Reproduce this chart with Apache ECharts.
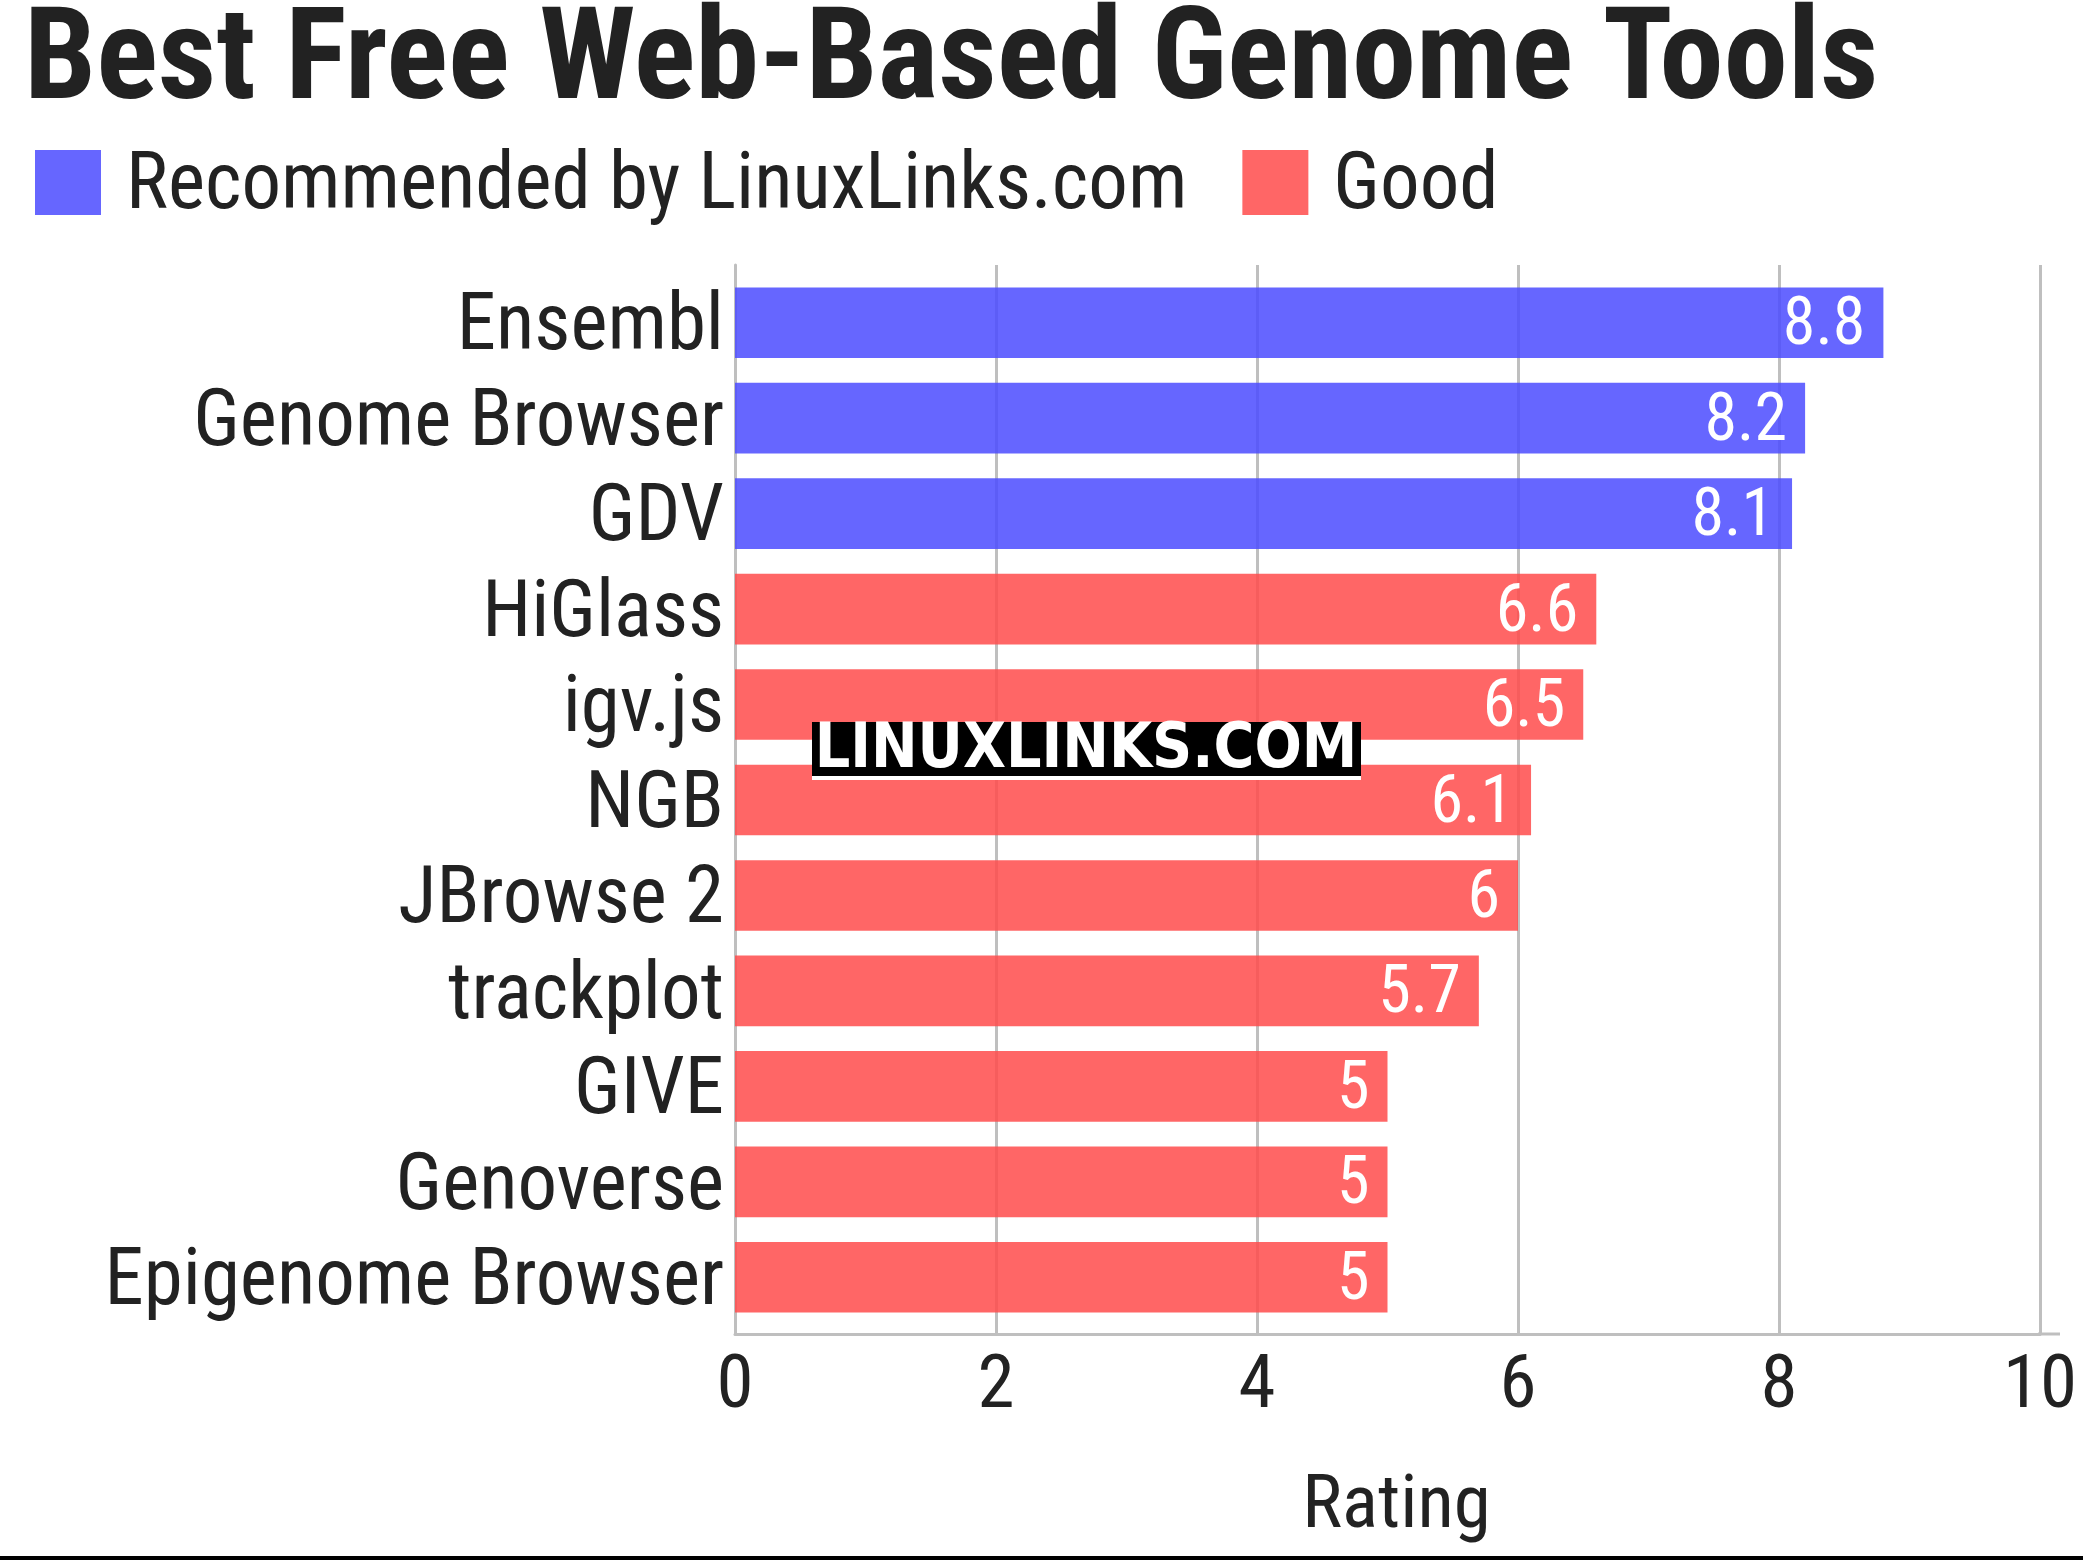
<!DOCTYPE html>
<html><head><meta charset="utf-8">
<script src="https://cdn.jsdelivr.net/npm/echarts@6/dist/echarts.min.js"></script>
<style>html,body{margin:0;padding:0;background:#fff}#c{width:2083px;height:1562px}</style>
</head><body><div id="c"></div>
<script>
const categories = ["Ensembl","Genome Browser","GDV","HiGlass","igv.js","NGB","JBrowse 2","trackplot","GIVE","Genoverse","Epigenome Browser"];
const recommended = [8.8, 8.2, 8.1, null, null, null, null, null, null, null, null];
const good = [null, null, null, 6.6, 6.5, 6.1, 6.0, 5.7, 5.0, 5.0, 5.0];
const xTicks = [0, 2, 4, 6, 8, 10];
const titleText = "Best Free Web-Based Genome Tools";
const seriesNames = ["Recommended by LinuxLinks.com", "Good"];

const FONT = '"Roboto Condensed","Liberation Sans Narrow","DejaVu Sans Condensed",Roboto,sans-serif';
const chart = echarts.init(document.getElementById('c'), null, {renderer:'canvas'});
const lbl = {show:true, position:'insideRight', distance:18, offset:[0,5], color:'#fff', fontSize:66, fontFamily:FONT,
  formatter: p => p.value == null ? '' : String(p.value)};
chart.setOption({
  backgroundColor:'#fff',
  animation:false,
  title:{text:titleText, left:19, top:-4, textStyle:{fontSize:128.7, fontWeight:'bold', color:'#222', fontFamily:FONT}},
  legend:{left:30, top:144, itemWidth:66, itemHeight:65, itemGap:55, icon:'rect',
    formatter: name => '{t|' + name + '}',
    textStyle:{fontSize:79, color:'#222', fontFamily:FONT, padding:[0,0,0,20],
      rich:{t:{fontSize:79, color:'#222', fontFamily:FONT, padding:[12,0,0,0]}}},
    data:seriesNames},
  grid:[
    {left:735, right:43, top:265, bottom:228},
    {left:735, right:43, top:275, bottom:237}
  ],
  xAxis:[
    {type:'value', gridIndex:0, min:xTicks[0], max:xTicks[xTicks.length-1], interval:2, z:0,
     axisLine:{show:true, lineStyle:{color:'#bfbfbf', width:3}}, axisTick:{show:false},
     splitLine:{show:true, lineStyle:{color:'#bfbfbf', width:3}},
     axisLabel:{fontSize:75, color:'#222', fontFamily:FONT, margin:17},
     name:'Rating', nameLocation:'middle', nameGap:137,
     nameTextStyle:{fontSize:75, color:'#222', fontFamily:FONT, padding:[0,0,0,18]}},
    {type:'value', gridIndex:1, min:xTicks[0], max:xTicks[xTicks.length-1], show:false}
  ],
  yAxis:[
    {type:'value', gridIndex:0, min:0, max:1, axisLine:{show:true, lineStyle:{color:'#bfbfbf', width:3}},
     axisLabel:{show:false}, axisTick:{show:false}, splitLine:{show:false}},
    {type:'category', gridIndex:1, data:categories, inverse:true,
     axisLine:{show:false}, axisTick:{show:false},
     axisLabel:{fontSize:79, color:'#222', fontFamily:FONT, margin:11, interval:0,
       formatter: v => '{t|' + v + '}',
       rich:{t:{fontSize:79, color:'#222', fontFamily:FONT, padding:[14,0,0,0]}}}}
  ],
  series:[
    {name:seriesNames[0], type:'bar', xAxisIndex:1, yAxisIndex:1, stack:'s', data:recommended, barCategoryGap:'26%',
     itemStyle:{color:'rgba(75,75,255,0.85)'}, label:lbl},
    {name:seriesNames[1], type:'bar', xAxisIndex:1, yAxisIndex:1, stack:'s', data:good, barCategoryGap:'26%',
     itemStyle:{color:'rgba(255,75,75,0.85)'}, label:lbl}
  ],
  graphic:[
    {type:'rect', shape:{x:2038, y:1332.5, width:22, height:3}, style:{fill:'#bfbfbf'}, z:1},
    {type:'rect', shape:{x:812, y:722, width:549, height:58}, style:{fill:'#fff'}, z:100},
    {type:'rect', shape:{x:812, y:722, width:549, height:54}, style:{fill:'#000'}, z:101},
    {type:'text', x:1086, y:751, z:102, style:{text:'LINUXLINKS.COM', fill:'#fff', fontSize:62, fontWeight:'bold',
      fontFamily:'"DejaVu Sans Condensed","DejaVu Sans",sans-serif', align:'center', verticalAlign:'middle'}},
    {type:'rect', shape:{x:0, y:1556, width:2083, height:4}, style:{fill:'#000'}, z:100}
  ]
});
</script></body></html>
